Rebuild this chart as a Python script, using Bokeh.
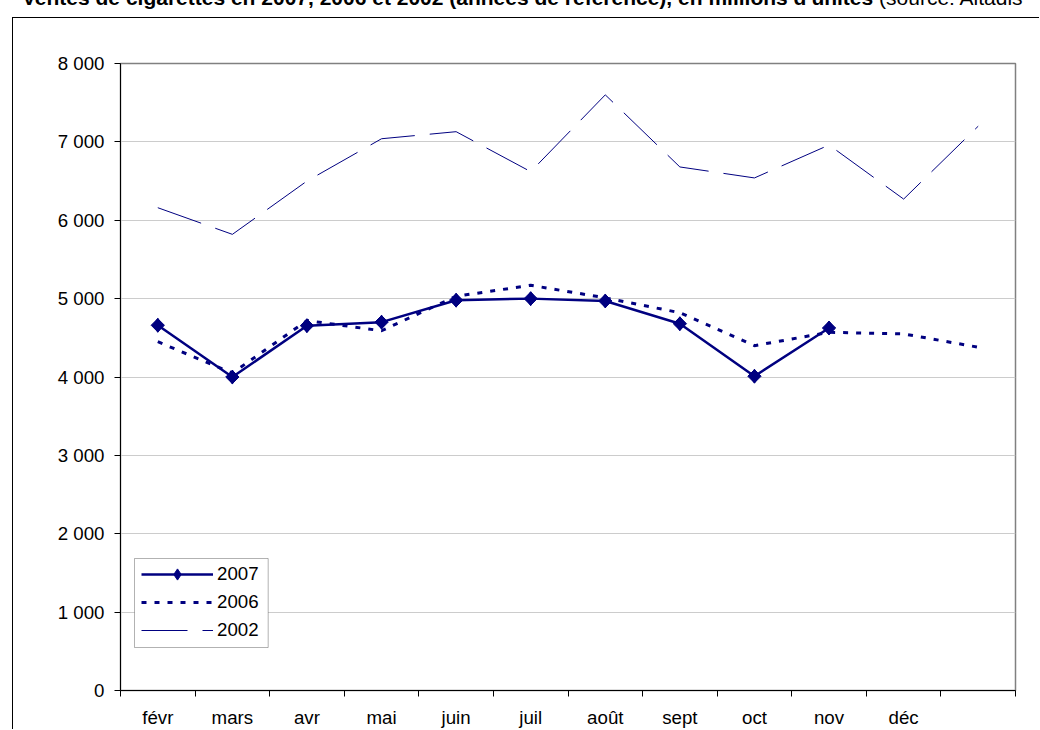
import numpy as np
from bokeh.plotting import figure
from bokeh.layouts import column
from bokeh.models import (Range1d, LinearAxis, FixedTicker, Legend, LegendItem, BoxAnnotation, Div)
from bokeh.embed import file_html
from bokeh.resources import INLINE

# ---- data ----
months = ["févr", "mars", "avr", "mai", "juin", "juil", "août", "sept", "oct", "nov", "déc", ""]
sales_2007 = [4660, 4000, 4655, 4700, 4980, 5000, 4970, 4680, 4010, 4625]
sales_2006 = [4450, 4050, 4720, 4590, 5030, 5170, 5010, 4820, 4400, 4570, 4550, 4380]
sales_2002 = [6160, 5820, 6500, 7040, 7130, 6620, 7600, 6680, 6540, 6960, 6270, 7200]
y_ticks = [0, 1000, 2000, 3000, 4000, 5000, 6000, 7000, 8000]
y_tick_labels = ["0", "1 000", "2 000", "3 000", "4 000", "5 000", "6 000", "7 000", "8 000"]
title_main = "Ventes de cigarettes en 2007, 2006 et 2002 (années de référence), en millions d'unités"
title_source = "(source: Altadis"

NAVY = "#000080"
FONT = "Liberation Sans"
FS = "18.7px"

# category slot centres (category i occupies [i, i+1])
centers = np.arange(len(months)) + 0.5

# ---- title strip (its upper half is cut by the top of the page) ----
title_div = Div(
    text=('<div style="position:absolute;top:-13px;left:22px;white-space:nowrap;'
          'font-family:\'Liberation Sans\';font-size:21px;line-height:21px;color:black;">'
          '<b>' + title_main + '</b> ' + title_source + '</div>'),
    width=1040, height=17, styles={"overflow": "visible", "margin": "0", "padding": "0"})

# ---- chart ----
p = figure(width=1027, height=712, x_range=Range1d(0, len(months)), y_range=Range1d(0, 8000),
           x_axis_type=None, y_axis_location="left", output_backend="svg", toolbar_location=None,
           min_border_left=107, min_border_right=25, min_border_top=45, min_border_bottom=39,
           background_fill_color="white", border_fill_color="white")
p.styles = {"margin-left": "12px", "border-left": "1.3px solid black", "border-top": "1.3px solid black"}
p.outline_line_color = "#808080"
p.outline_line_width = 1.5

# y axis
yax = p.yaxis[0]
yax.ticker = FixedTicker(ticks=y_ticks)
yax.major_label_overrides = {t: l for t, l in zip(y_ticks, y_tick_labels)}
yax.major_tick_out = 6
yax.major_tick_in = 0
yax.minor_tick_out = 0
yax.minor_tick_in = 0
yax.major_label_standoff = 10
yax.axis_line_color = "black"
yax.major_tick_line_color = "black"
yax.major_label_text_font = FONT
yax.major_label_text_font_size = FS
yax.major_label_text_color = "black"
p.ygrid.ticker = FixedTicker(ticks=y_ticks)
p.ygrid.grid_line_color = "#cccccc"
p.ygrid.grid_line_width = 1

# x axes: boundary ticks + category labels at slot centres
bounds = list(range(len(months) + 1))
tick_ax = LinearAxis(ticker=FixedTicker(ticks=bounds),
                     major_label_overrides={b: "" for b in bounds},
                     major_tick_out=6, major_tick_in=0, minor_tick_out=0, minor_tick_in=0,
                     major_label_standoff=0, major_label_text_font_size="1px",
                     axis_line_color="black", major_tick_line_color="black")
p.add_layout(tick_ax, "below")
cat_ax = LinearAxis(ticker=FixedTicker(ticks=list(centers)),
                    major_label_overrides={float(c): m for c, m in zip(centers, months)},
                    major_tick_out=0, major_tick_in=0, minor_tick_out=0, minor_tick_in=0,
                    axis_line_color=None, major_tick_line_color=None, major_label_standoff=10,
                    major_label_text_font=FONT, major_label_text_font_size=FS,
                    major_label_text_color="black")
p.add_layout(cat_ax, "below")

# series
r02 = p.line(centers[:len(sales_2002)], sales_2002, line_color=NAVY, line_width=1, line_dash="46 15")
r06 = p.line(centers[:len(sales_2006)], sales_2006, line_color=NAVY, line_width=3, line_dash="5 8")
r07 = p.line(centers[:len(sales_2007)], sales_2007, line_color=NAVY, line_width=2.5)
# diamond (shown in legend), covered in the plot by the rotated squares
d07 = p.scatter(centers[:len(sales_2007)], sales_2007, marker="diamond", size=14,
                fill_color=NAVY, line_color=NAVY)
m07 = p.scatter(centers[:len(sales_2007)], sales_2007, marker="square", size=9.4, angle=np.pi / 4,
                fill_color=NAVY, line_color=NAVY)

# legend box + legend
p.add_layout(BoxAnnotation(left=14, right=147.7, bottom=43, top=132,
                           left_units="screen", right_units="screen",
                           bottom_units="screen", top_units="screen",
                           fill_color="white", fill_alpha=1, line_color="black", line_width=1))
legend = Legend(items=[LegendItem(label="2007", renderers=[r07, d07]),
                       LegendItem(label="2006", renderers=[r06]),
                       LegendItem(label="2002", renderers=[r02])],
                location=(21, 46), padding=0, spacing=0, glyph_width=72, glyph_height=28,
                label_height=28, label_standoff=4, label_text_font=FONT, label_text_font_size=FS,
                label_text_color="black", border_line_color=None, background_fill_alpha=0)
p.add_layout(legend)

layout = column(title_div, p, spacing=0)
open("out.html", "w").write(file_html(layout, INLINE))
